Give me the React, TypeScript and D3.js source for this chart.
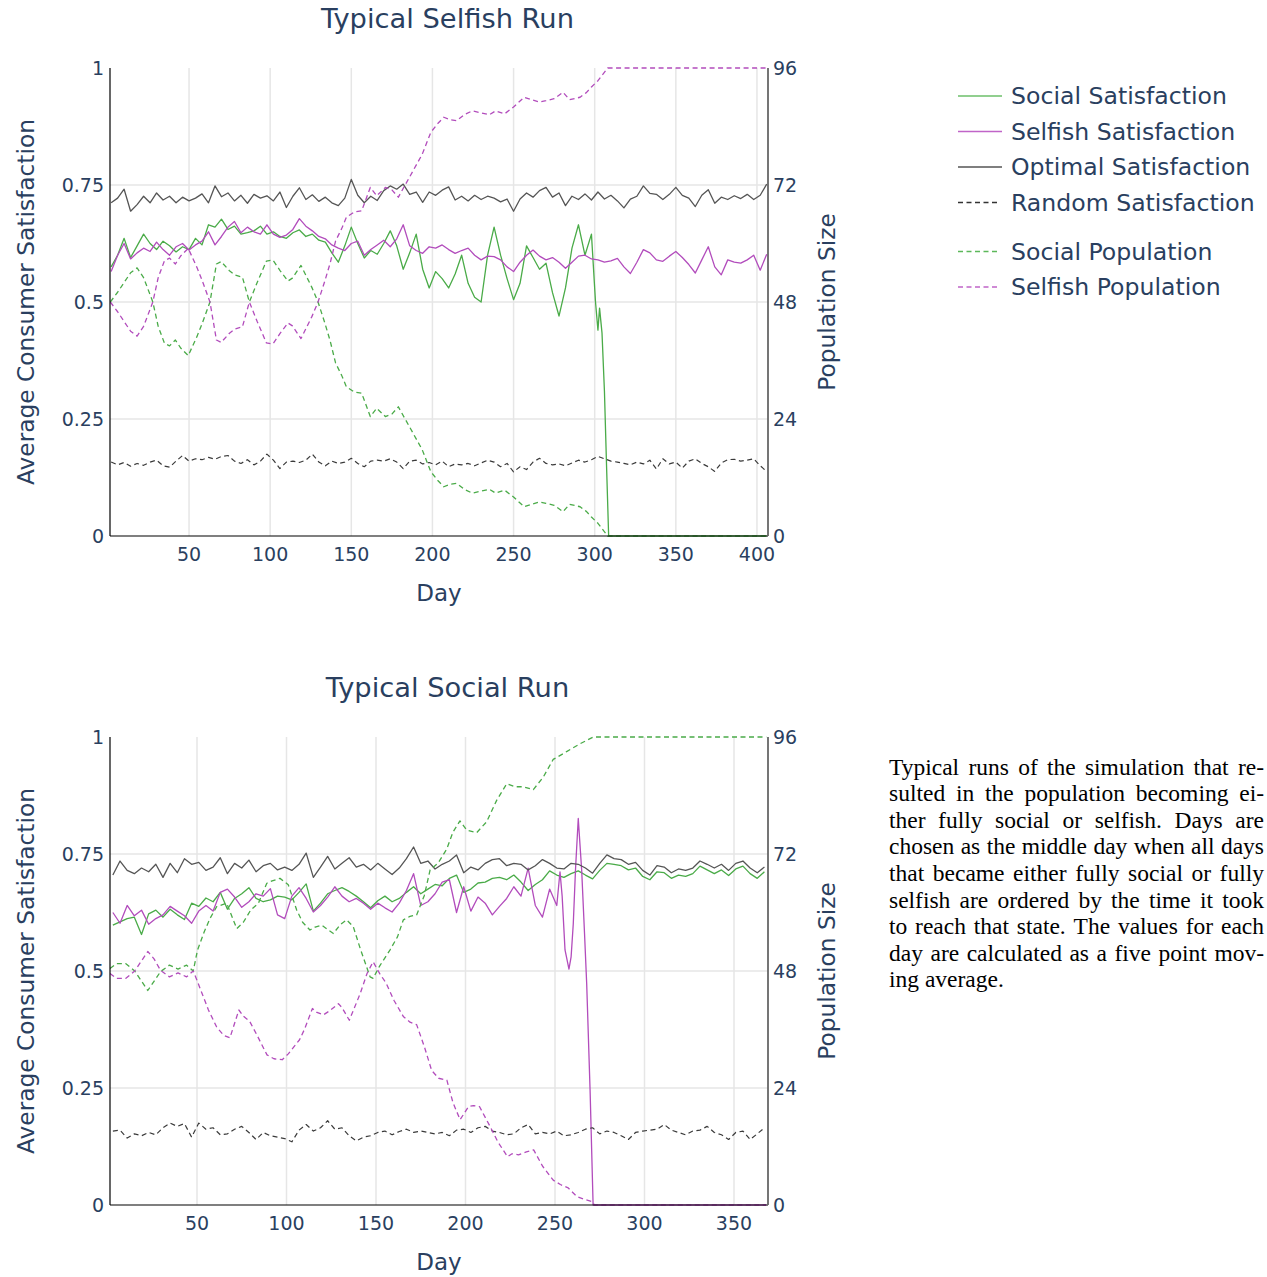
import React, { useMemo } from 'react';
import * as d3 from 'd3';

type Pt = [number, number];

// ================= Typical Selfish Run (days 2..406, step 4) =================
const selfishRunOptimal = [
  0.712, 0.722, 0.741, 0.694, 0.708, 0.726, 0.712, 0.733, 0.718, 0.726,
  0.712, 0.724, 0.716, 0.722, 0.731, 0.712, 0.748, 0.725, 0.733, 0.716,
  0.728, 0.711, 0.73, 0.722, 0.727, 0.716, 0.735, 0.702, 0.726, 0.744,
  0.719, 0.729, 0.715, 0.724, 0.712, 0.706, 0.722, 0.762, 0.728, 0.712,
  0.726, 0.717, 0.738, 0.748, 0.741, 0.752, 0.73, 0.735, 0.713, 0.735,
  0.728, 0.739, 0.746, 0.718, 0.726, 0.716, 0.728, 0.719, 0.726, 0.722,
  0.714, 0.72, 0.694, 0.72, 0.733, 0.724, 0.738, 0.745, 0.724, 0.733,
  0.706, 0.726, 0.719, 0.731, 0.718, 0.735, 0.72, 0.728, 0.716, 0.701,
  0.72, 0.726, 0.748, 0.732, 0.73, 0.719, 0.73, 0.745, 0.728, 0.722,
  0.704, 0.728, 0.74, 0.711, 0.724, 0.719, 0.727, 0.721, 0.73, 0.719,
  0.728, 0.752,
];
const selfishRunRandom = [
  0.158, 0.152, 0.157, 0.149, 0.155, 0.151, 0.158, 0.162, 0.15, 0.147,
  0.16, 0.172, 0.16, 0.165, 0.163, 0.168, 0.164, 0.17, 0.172, 0.16,
  0.155, 0.163, 0.152, 0.16, 0.175, 0.162, 0.144, 0.158, 0.16, 0.157,
  0.162, 0.175, 0.158, 0.15, 0.16, 0.155, 0.158, 0.166, 0.155, 0.148,
  0.16, 0.162, 0.16, 0.165, 0.158, 0.144, 0.16, 0.162, 0.154, 0.157,
  0.152, 0.16, 0.148, 0.154, 0.152, 0.155, 0.15, 0.156, 0.162, 0.158,
  0.148, 0.155, 0.137, 0.148, 0.142, 0.158, 0.166, 0.155, 0.152, 0.154,
  0.15, 0.156, 0.162, 0.158, 0.163, 0.17, 0.165, 0.16, 0.158, 0.155,
  0.152, 0.158, 0.154, 0.162, 0.143, 0.165, 0.154, 0.158, 0.145, 0.16,
  0.165, 0.155, 0.148, 0.138, 0.156, 0.163, 0.164, 0.16, 0.162, 0.165,
  0.15, 0.138,
];
// days 2..298 step 4
const selfishRunSocialSat = [
  0.575, 0.6, 0.636, 0.595, 0.62, 0.645, 0.625, 0.612, 0.63, 0.62,
  0.607, 0.618, 0.612, 0.636, 0.622, 0.665, 0.66, 0.677, 0.655, 0.662,
  0.645, 0.648, 0.652, 0.662, 0.645, 0.65, 0.64, 0.636, 0.648, 0.654,
  0.64, 0.645, 0.632, 0.628, 0.605, 0.585, 0.62, 0.66, 0.625, 0.594,
  0.61, 0.602, 0.625, 0.652, 0.62, 0.57, 0.605, 0.645, 0.57, 0.53,
  0.565, 0.55, 0.53, 0.56, 0.6, 0.54, 0.51, 0.5, 0.6, 0.66,
  0.6, 0.55, 0.505, 0.54, 0.62, 0.595, 0.57, 0.583, 0.52, 0.47,
  0.53, 0.615, 0.665, 0.6, 0.645,
];
const selfishRunSocialSatTail: Pt[] = [
  [300.5, 0.5], [302, 0.44], [303, 0.487], [304.5, 0.434], [306, 0.31],
  [307.3, 0.15], [308.6, 0], [406, 0],
];
const selfishRunSelfishSat = [
  0.565, 0.6, 0.625, 0.592, 0.605, 0.615, 0.608, 0.628, 0.612, 0.6,
  0.618, 0.625, 0.611, 0.622, 0.63, 0.65, 0.622, 0.64, 0.66, 0.672,
  0.648, 0.66, 0.65, 0.645, 0.665, 0.645, 0.638, 0.643, 0.655, 0.678,
  0.662, 0.652, 0.64, 0.635, 0.622, 0.615, 0.61, 0.625, 0.63, 0.6,
  0.612, 0.622, 0.632, 0.618, 0.635, 0.665, 0.62, 0.61, 0.604, 0.618,
  0.615, 0.622, 0.612, 0.604, 0.61, 0.615, 0.6, 0.59, 0.598, 0.597,
  0.59, 0.575, 0.565, 0.585, 0.6, 0.611, 0.598, 0.59, 0.595, 0.585,
  0.572, 0.585, 0.598, 0.6, 0.592, 0.59, 0.585, 0.588, 0.593, 0.575,
  0.561, 0.585, 0.612, 0.605, 0.59, 0.587, 0.598, 0.608, 0.595, 0.58,
  0.562, 0.59, 0.618, 0.575, 0.558, 0.59, 0.585, 0.583, 0.59, 0.6,
  0.568, 0.602,
];
const selfishRunSocialPop: Pt[] = [
  [1.5, 48], [6, 50], [10, 52], [14, 54], [18, 55], [22, 53], [27.7, 48], [31, 43],
  [34.9, 39.5], [38, 39], [41.6, 40.2], [45, 38.5], [49.5, 37], [55, 41], [58, 43.5],
  [62.9, 48], [66.9, 55.8], [69.8, 56.3], [74.9, 54.4], [78.5, 53.5], [82.9, 53.1],
  [87.2, 48], [92, 52], [97.7, 56.4], [101.7, 56.6], [106, 54.5], [111, 52.3],
  [113.7, 52.9], [119, 55.5], [125.7, 51], [129.5, 48], [133.7, 43.7], [137, 40],
  [140.3, 35.5], [144, 33], [147, 30.6], [152, 29.5], [156.4, 29.3], [161.7, 24.5],
  [165.7, 26.2], [171, 24.5], [175, 25], [179, 26.5], [185.7, 22.5], [193.7, 17.7],
  [199, 13.2], [203, 11.5], [207, 10.1], [211, 10.6], [215, 10.8], [220, 9.5],
  [224.5, 8.8], [230, 9.2], [235, 9.6], [239, 8.8], [244.5, 9.4], [250, 8],
  [256.5, 6], [261, 6.5], [265.8, 7], [270, 6.7], [275, 6.3], [280.5, 5],
  [284.5, 6.5], [291, 6], [295, 5], [298, 3.9], [302, 2.6], [308, 0], [406, 0],
];
const selfishRunSelfishPop: Pt[] = [
  [1.5, 48], [6, 46], [10, 44], [14, 42], [18, 41], [22, 43], [27.7, 48], [31, 53],
  [34.9, 56.5], [38, 57], [41.6, 55.8], [45, 57.5], [49.5, 59], [55, 55], [58, 52.5],
  [62.9, 48], [66.9, 40.2], [69.8, 39.7], [74.9, 41.6], [78.5, 42.5], [82.9, 42.9],
  [87.2, 48], [92, 44], [97.7, 39.6], [101.7, 39.4], [106, 41.5], [111, 43.7],
  [113.7, 43.1], [119, 40.5], [125.7, 45], [129.5, 48], [133.7, 52.3], [137, 56],
  [140.3, 60.5], [144, 63], [147, 65.4], [152, 66.5], [156.4, 66.7], [161.7, 71.5],
  [165.7, 69.8], [171, 71.5], [175, 71], [179, 69.5], [185.7, 73.5], [193.7, 78.3],
  [199, 82.8], [203, 84.5], [207, 85.9], [211, 85.4], [215, 85.2], [220, 86.5],
  [224.5, 87.2], [230, 86.8], [235, 86.4], [239, 87.2], [244.5, 86.6], [250, 88],
  [256.5, 90], [261, 89.5], [265.8, 89], [270, 89.3], [275, 89.7], [280.5, 91],
  [284.5, 89.5], [291, 90], [295, 91], [298, 92.1], [302, 93.4], [308, 96], [406, 96],
];

// ================= Typical Social Run (days 3..367, step 4) =================
const socialRunOptimal = [
  0.705, 0.735, 0.715, 0.708, 0.72, 0.712, 0.728, 0.7, 0.73, 0.71,
  0.74, 0.728, 0.732, 0.715, 0.722, 0.742, 0.708, 0.73, 0.72, 0.737,
  0.712, 0.725, 0.73, 0.716, 0.722, 0.715, 0.728, 0.752, 0.7, 0.722,
  0.745, 0.718, 0.73, 0.742, 0.722, 0.728, 0.716, 0.73, 0.718, 0.706,
  0.72, 0.74, 0.765, 0.73, 0.735, 0.718, 0.728, 0.735, 0.748, 0.71,
  0.722, 0.716, 0.73, 0.738, 0.74, 0.725, 0.73, 0.728, 0.716, 0.725,
  0.738, 0.73, 0.72, 0.718, 0.73, 0.728, 0.72, 0.709, 0.73, 0.748,
  0.74, 0.738, 0.728, 0.732, 0.715, 0.705, 0.725, 0.722, 0.71, 0.718,
  0.715, 0.72, 0.735, 0.728, 0.72, 0.728, 0.715, 0.73, 0.735, 0.72,
  0.71, 0.722,
];
const socialRunRandom = [
  0.158, 0.16, 0.143, 0.152, 0.148, 0.155, 0.15, 0.165, 0.175, 0.168,
  0.174, 0.145, 0.175, 0.162, 0.165, 0.15, 0.152, 0.162, 0.168, 0.155,
  0.14, 0.155, 0.148, 0.145, 0.142, 0.135, 0.16, 0.172, 0.158, 0.165,
  0.18, 0.162, 0.165, 0.148, 0.137, 0.145, 0.148, 0.155, 0.158, 0.15,
  0.157, 0.162, 0.155, 0.158, 0.155, 0.152, 0.155, 0.148, 0.16, 0.162,
  0.155, 0.165, 0.168, 0.158, 0.155, 0.15, 0.152, 0.165, 0.172, 0.152,
  0.155, 0.152, 0.158, 0.148, 0.15, 0.155, 0.162, 0.165, 0.152, 0.158,
  0.155, 0.148, 0.14, 0.155, 0.158, 0.16, 0.162, 0.172, 0.16, 0.155,
  0.15, 0.158, 0.16, 0.168, 0.155, 0.15, 0.14, 0.155, 0.158, 0.14,
  0.152, 0.165,
];
const socialRunSocialSat = [
  0.598, 0.605, 0.612, 0.615, 0.578, 0.622, 0.63, 0.615, 0.632, 0.62,
  0.61, 0.645, 0.638, 0.656, 0.648, 0.668, 0.632, 0.655, 0.665, 0.678,
  0.655, 0.648, 0.652, 0.66, 0.658, 0.652, 0.668, 0.686, 0.628, 0.645,
  0.665, 0.672, 0.678, 0.67, 0.66, 0.648, 0.635, 0.65, 0.66, 0.648,
  0.655, 0.668, 0.68, 0.665, 0.675, 0.685, 0.682, 0.698, 0.705, 0.668,
  0.675, 0.688, 0.69, 0.698, 0.7, 0.695, 0.705, 0.69, 0.672, 0.685,
  0.695, 0.714, 0.705, 0.7, 0.708, 0.714, 0.705, 0.697, 0.715, 0.73,
  0.728, 0.725, 0.716, 0.72, 0.702, 0.695, 0.712, 0.71, 0.698, 0.705,
  0.702, 0.708, 0.724, 0.716, 0.708, 0.716, 0.704, 0.718, 0.724, 0.708,
  0.698, 0.712,
];
// days 3..251 step 4
const socialRunSelfishSat = [
  0.625, 0.602, 0.64, 0.618, 0.63, 0.6, 0.612, 0.62, 0.638, 0.628,
  0.618, 0.602, 0.628, 0.64, 0.628, 0.668, 0.675, 0.658, 0.636, 0.648,
  0.665, 0.66, 0.676, 0.62, 0.612, 0.66, 0.678, 0.655, 0.626, 0.64,
  0.658, 0.68, 0.66, 0.648, 0.655, 0.645, 0.632, 0.645, 0.635, 0.626,
  0.645, 0.672, 0.708, 0.64, 0.648, 0.665, 0.69, 0.695, 0.625, 0.68,
  0.628, 0.658, 0.645, 0.62, 0.638, 0.655, 0.68, 0.66, 0.72, 0.64,
  0.615, 0.675, 0.64,
];
const socialRunSelfishSatTail: Pt[] = [
  [252.8, 0.712], [254, 0.66], [255.6, 0.545], [257.8, 0.504], [259, 0.53],
  [260.2, 0.6], [261.5, 0.72], [263, 0.826], [264.9, 0.716], [266.5, 0.58],
  [267.7, 0.474], [269.6, 0.246], [271.3, 0], [368, 0],
];
const socialRunSocialPop: Pt[] = [
  [1.4, 48.5], [5, 49.5], [10.3, 49.5], [15.2, 48], [22.5, 44], [29.7, 47.9],
  [34.6, 49.2], [39.4, 48.4], [44.2, 49.2], [47.9, 48], [50.3, 52.3], [54, 56],
  [57.3, 58.8], [61, 61.2], [66.6, 61.9], [72.2, 56.7], [75.9, 58], [80, 60.5],
  [84.3, 61.9], [89, 66], [92, 66.5], [96.4, 67], [101, 65.7], [105.7, 60.5],
  [109, 58], [113.1, 56.4], [116, 57], [119.7, 57.4], [123, 56.5], [126.2, 55.7],
  [130, 57.5], [133.6, 58.5], [137.3, 57.1], [141.2, 52.6], [146.7, 46.8],
  [148.4, 46.5], [152, 49], [157.8, 52.3], [162, 55], [165.3, 58.5], [169, 59.2],
  [172.7, 59.5], [177, 63.5], [180.2, 68.7], [184.8, 70.2], [189.5, 73], [193, 76.5],
  [196.9, 78.8], [200.7, 76.9], [206.3, 76.4], [211.8, 78.6], [217.4, 83], [223, 86.4],
  [227.6, 85.8], [232.3, 85.8], [237.9, 85.2], [243.5, 87.8], [249, 91.4],
  [256.5, 93], [263.9, 94.6], [271.4, 96], [368, 96],
];
const socialRunSelfishPop: Pt[] = [
  [1.4, 47.5], [5, 46.5], [10.3, 46.5], [15.2, 48], [22.5, 52], [26, 50.5],
  [29.7, 48.1], [34.6, 46.8], [39.4, 47.6], [44.2, 46.8], [47.9, 48], [50.3, 45.8],
  [56.4, 40], [61, 36.5], [64.9, 34.8], [68.4, 34.3], [73.4, 40], [76, 38.7],
  [79.4, 37.7], [84, 34.5], [89.1, 30.8], [93, 30], [97.6, 29.8], [101, 31],
  [107.3, 33.9], [110, 36], [114.5, 40.3], [117, 39.5], [120.6, 39], [124, 39.8],
  [129, 41.3], [131, 40.5], [135.1, 37.9], [138, 40.5], [141.2, 43.4], [145, 47.5],
  [148.4, 49.9], [152, 47.5], [155.7, 45.5], [160, 42], [165.4, 38.6], [169, 37.5],
  [172.7, 37], [177, 32.5], [181.1, 27.6], [185, 26], [189.6, 25.6], [193, 21],
  [197, 17.5], [201.7, 20.2], [204.5, 20.4], [207.8, 20.2], [213.9, 16], [218, 13],
  [223.5, 9.9], [226, 10.5], [229.6, 10.3], [234, 10.9], [238.1, 11.3], [243, 8],
  [249, 5.1], [253, 4.2], [257.4, 3.5], [262.3, 1.7], [266, 1.2], [270.8, 0.7],
  [272, 0], [368, 0],
];

// ================= Axes / labels =================
const selfishRunXTicks = [50, 100, 150, 200, 250, 300, 350, 400];
const socialRunXTicks = [50, 100, 150, 200, 250, 300, 350];
const satTicks = [0, 0.25, 0.5, 0.75, 1];
const satTickLabels = ['0', '0.25', '0.5', '0.75', '1'];
const popTicks = [0, 24, 48, 72, 96];

const legendNames = [
  'Social Satisfaction',
  'Selfish Satisfaction',
  'Optimal Satisfaction',
  'Random Satisfaction',
  'Social Population',
  'Selfish Population',
];

const captionLines = [
  'Typical runs of the simulation that re-',
  'sulted in the population becoming ei-',
  'ther fully social or selfish.  Days are',
  'chosen as the middle day when all days',
  'that became either fully social or fully',
  'selfish are ordered by the time it took',
  'to reach that state. The values for each',
  'day are calculated as a five point mov-',
  'ing average.',
];

// ================= Styling =================
const GREEN = '#4aab48';
const PURPLE = '#b24cbc';
const OPT = '#555555';
const RAND = '#3a3a3a';
const TXT = '#2a3f5f';
const FONT = "'DejaVu Sans', sans-serif";
const DASH = '5,3.5';

const L = 110;
const R = 768;
const PH = 468;

const stepSeries = (vals: number[], start: number, step: number): Pt[] =>
  vals.map((v, i) => [start + i * step, v] as Pt);

type Series = { pts: Pt[]; color: string; dash?: string; axis: 'sat' | 'pop'; width: number };

function Chart(props: {
  top: number;
  title: string;
  domain: [number, number];
  ticks: number[];
  series: Series[];
}) {
  const { top, title, domain, ticks, series } = props;
  const x = d3.scaleLinear().domain(domain).range([L, R]);
  const y = d3.scaleLinear().domain([0, 1]).range([top + PH, top]);
  const y2 = d3.scaleLinear().domain([0, 96]).range([top + PH, top]);
  const bottom = top + PH;
  const mk = (axis: 'sat' | 'pop') =>
    d3
      .line<Pt>()
      .x((d) => x(d[0]))
      .y((d) => (axis === 'sat' ? y(d[1]) : y2(d[1])));
  const clipId = `clip-${top}`;
  return (
    <g>
      <defs>
        <clipPath id={clipId}>
          <rect x={L} y={top - 3} width={R - L} height={PH + 4} />
        </clipPath>
      </defs>
      {ticks.map((t) => (
        <line key={`gx${t}`} x1={x(t)} x2={x(t)} y1={top} y2={bottom} stroke="#e6e6e6" strokeWidth={1.5} />
      ))}
      {satTicks
        .filter((t) => t > 0 && t < 1)
        .map((t) => (
          <line key={`gy${t}`} x1={L} x2={R} y1={y(t)} y2={y(t)} stroke="#e6e6e6" strokeWidth={1.5} />
        ))}
      <g clipPath={`url(#${clipId})`}>
        {series.map((s, i) => (
          <path
            key={i}
            d={mk(s.axis)(s.pts) || ''}
            fill="none"
            stroke={s.color}
            strokeWidth={s.width}
            strokeDasharray={s.dash}
            strokeLinejoin="round"
          />
        ))}
      </g>
      <line x1={L} x2={L} y1={top} y2={bottom} stroke="#000" strokeWidth={1.2} />
      <line x1={L} x2={R} y1={bottom} y2={bottom} stroke="#000" strokeWidth={1.2} />
      <line x1={R} x2={R} y1={top} y2={bottom} stroke="#666" strokeWidth={1.8} />
      <g fontFamily={FONT} fill={TXT}>
        <text x={447.5} y={top - 40} fontSize={27.3} textAnchor="middle">
          {title}
        </text>
        {ticks.map((t) => (
          <text key={`tx${t}`} x={x(t)} y={bottom + 25} fontSize={19} textAnchor="middle">
            {t}
          </text>
        ))}
        {satTicks.map((t, i) => (
          <text key={`ty${t}`} x={104} y={y(t)} fontSize={19} textAnchor="end" dominantBaseline="central">
            {satTickLabels[i]}
          </text>
        ))}
        {popTicks.map((t) => (
          <text key={`tp${t}`} x={773} y={y2(t)} fontSize={19} textAnchor="start" dominantBaseline="central">
            {t}
          </text>
        ))}
        <text x={(L + R) / 2} y={bottom + 65} fontSize={23} textAnchor="middle">
          Day
        </text>
        <text
          transform={`translate(25.5,${top + PH / 2}) rotate(-90)`}
          fontSize={23.3}
          textAnchor="middle"
          dominantBaseline="central"
        >
          Average Consumer Satisfaction
        </text>
        <text
          transform={`translate(826,${top + PH / 2}) rotate(-90)`}
          fontSize={23.3}
          textAnchor="middle"
          dominantBaseline="central"
        >
          Population Size
        </text>
      </g>
    </g>
  );
}

function Legend() {
  const rows = [96, 131.5, 167, 202.5, 251.5, 287];
  const styles = [
    { color: '#6cbf6a', dash: undefined, x2: 1002 },
    { color: '#c064c8', dash: undefined, x2: 1002 },
    { color: '#555', dash: undefined, x2: 1002 },
    { color: '#333', dash: DASH, x2: 1000 },
    { color: '#5cb85a', dash: DASH, x2: 1000 },
    { color: '#c064c8', dash: DASH, x2: 1000 },
  ];
  return (
    <g fontFamily={FONT} fill={TXT}>
      {legendNames.map((n, i) => (
        <g key={n}>
          <line x1={958} x2={styles[i].x2} y1={rows[i]} y2={rows[i]} stroke={styles[i].color} strokeWidth={1.6} strokeDasharray={styles[i].dash} />
          <text x={1011} y={rows[i]} fontSize={23.6} dominantBaseline="central">
            {n}
          </text>
        </g>
      ))}
    </g>
  );
}

function Caption() {
  const x0 = 889;
  const width = 375;
  const fontSize = 23.5;
  const family = "'Liberation Serif', 'Times New Roman', serif";
  const layout = useMemo(() => {
    const ctx = document.createElement('canvas').getContext('2d');
    const measure = (s: string) => {
      if (!ctx) return s.length * fontSize * 0.45;
      ctx.font = `${fontSize}px 'Liberation Serif'`;
      return ctx.measureText(s).width;
    };
    const spaceW = measure(' ');
    return captionLines.map((line, li) => {
      const words = line.split(/\s+/);
      const ws = words.map(measure);
      const total = ws.reduce((a, b) => a + b, 0);
      const last = li === captionLines.length - 1;
      const gap = last || words.length < 2 ? spaceW : (width - total) / (words.length - 1);
      let xx = 0;
      return words.map((w, i) => {
        const p = { w, x: xx };
        xx += ws[i] + gap;
        return p;
      });
    });
  }, []);
  return (
    <g fontFamily={family} fontSize={fontSize} fill="#000">
      {layout.map((words, li) =>
        words.map((p, wi) => (
          <text key={`${li}-${wi}`} x={x0 + p.x} y={774.5 + li * 26.6}>
            {p.w}
          </text>
        ))
      )}
    </g>
  );
}

export default function App() {
  const top: Series[] = [
    { pts: [...stepSeries(selfishRunSocialSat, 2, 4), ...selfishRunSocialSatTail], color: GREEN, axis: 'sat', width: 1.3 },
    { pts: stepSeries(selfishRunSelfishSat, 2, 4), color: PURPLE, axis: 'sat', width: 1.3 },
    { pts: stepSeries(selfishRunOptimal, 2, 4), color: OPT, axis: 'sat', width: 1.3 },
    { pts: stepSeries(selfishRunRandom, 2, 4), color: RAND, axis: 'sat', width: 1.2, dash: DASH },
    { pts: selfishRunSocialPop, color: GREEN, axis: 'pop', width: 1.3, dash: DASH },
    { pts: selfishRunSelfishPop, color: PURPLE, axis: 'pop', width: 1.3, dash: DASH },
  ];
  const bottom: Series[] = [
    { pts: stepSeries(socialRunSocialSat, 3, 4), color: GREEN, axis: 'sat', width: 1.3 },
    { pts: [...stepSeries(socialRunSelfishSat, 3, 4), ...socialRunSelfishSatTail], color: PURPLE, axis: 'sat', width: 1.3 },
    { pts: stepSeries(socialRunOptimal, 3, 4), color: OPT, axis: 'sat', width: 1.3 },
    { pts: stepSeries(socialRunRandom, 3, 4), color: RAND, axis: 'sat', width: 1.2, dash: DASH },
    { pts: socialRunSocialPop, color: GREEN, axis: 'pop', width: 1.3, dash: DASH },
    { pts: socialRunSelfishPop, color: PURPLE, axis: 'pop', width: 1.3, dash: DASH },
  ];
  return (
    <svg
      width={1267}
      height={1277}
      style={{ position: 'absolute', left: 0, top: 0, background: '#fff' }}
    >
      <rect width={1267} height={1277} fill="#fff" />
      <Chart top={68} title="Typical Selfish Run" domain={[1.3, 406.8]} ticks={selfishRunXTicks} series={top} />
      <Chart top={737} title="Typical Social Run" domain={[1.4, 369]} ticks={socialRunXTicks} series={bottom} />
      <Legend />
      <Caption />
    </svg>
  );
}
